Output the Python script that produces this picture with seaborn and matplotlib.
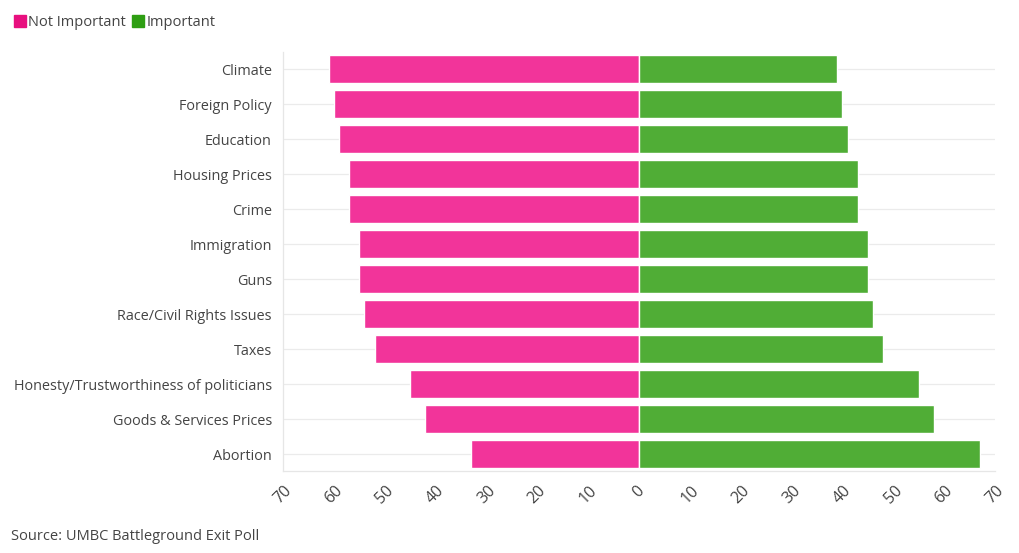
import matplotlib
matplotlib.use("Agg")
import matplotlib.pyplot as plt
import seaborn as sns
import pandas as pd
from matplotlib.lines import Line2D

categories = ["Climate", "Foreign Policy", "Education", "Housing Prices", "Crime",
              "Immigration", "Guns", "Race/Civil Rights Issues", "Taxes",
              "Honesty/Trustworthiness of politicians", "Goods & Services Prices", "Abortion"]
not_important = [61, 60, 59, 57, 57, 55, 55, 54, 52, 45, 42, 33]
important = [39, 40, 41, 43, 43, 45, 45, 46, 48, 55, 58, 67]
tick_values = [-70, -60, -50, -40, -30, -20, -10, 0, 10, 20, 30, 40, 50, 60, 70]
tick_labels = ["70", "60", "50", "40", "30", "20", "10", "0", "10", "20", "30", "40", "50", "60", "70"]

sns.set_theme(style="white")
plt.rcParams['font.family'] = ['Open Sans', 'DejaVu Sans']

pink = "#F2349A"
green = "#50AD36"
text_col = "#444444"

df = pd.DataFrame({
    "category": categories * 2,
    "value": [-v for v in not_important] + important,
    "series": ["Not Important"] * len(categories) + ["Important"] * len(categories),
})

fig = plt.figure(figsize=(10.2, 5.53), dpi=100)
ax = fig.add_axes([0.2775, 0.1474, 0.6980, 0.7586])

for y in range(len(categories)):
    ax.axhline(y, color="#EBEBEB", lw=0.9, zorder=0)

sns.barplot(data=df, x="value", y="category", hue="series", orient="h",
            palette={"Not Important": pink, "Important": green},
            dodge=False, width=0.8, edgecolor="white", linewidth=1.0,
            saturation=1, ax=ax, legend=False, zorder=2)

ax.set_xlim(-70, 70)
ax.set_ylim(len(categories) - 0.5, -0.5)
ax.set_xticks(tick_values)
ax.set_xticklabels(tick_labels, rotation=45, ha="center", va="top",
                   fontsize=11.5, color=text_col)
ax.tick_params(axis="x", length=5, color="#E0E0E0", pad=3)
ax.tick_params(axis="y", length=4.5, color="#E6E6E6", labelsize=10.4, labelcolor=text_col, pad=3.5)
ax.set_xlabel("")
ax.set_ylabel("")
for s in ["top", "right"]:
    ax.spines[s].set_visible(False)
ax.spines["left"].set_color("#E6E6E6")
ax.spines["bottom"].set_color("#E6E6E6")
ax.spines["left"].set_linewidth(0.9)
ax.spines["bottom"].set_linewidth(0.9)

handles = [Line2D([0], [0], marker="s", color="none", markerfacecolor="#E8107F",
                  markeredgecolor="#E8107F", markersize=9),
           Line2D([0], [0], marker="s", color="none", markerfacecolor="#2E9E13",
                  markeredgecolor="#2E9E13", markersize=9)]
fig.legend(handles, ["Not Important", "Important"], loc="upper left",
           bbox_to_anchor=(0.002, 0.997), ncol=2, frameon=False, handlelength=0.7,
           handletextpad=0.2, columnspacing=0.5, fontsize=10.5, labelcolor=text_col)

fig.text(0.011, 0.024, "Source: UMBC Battleground Exit Poll", fontsize=10.5, color=text_col)

fig.savefig("out.png", dpi=100)
